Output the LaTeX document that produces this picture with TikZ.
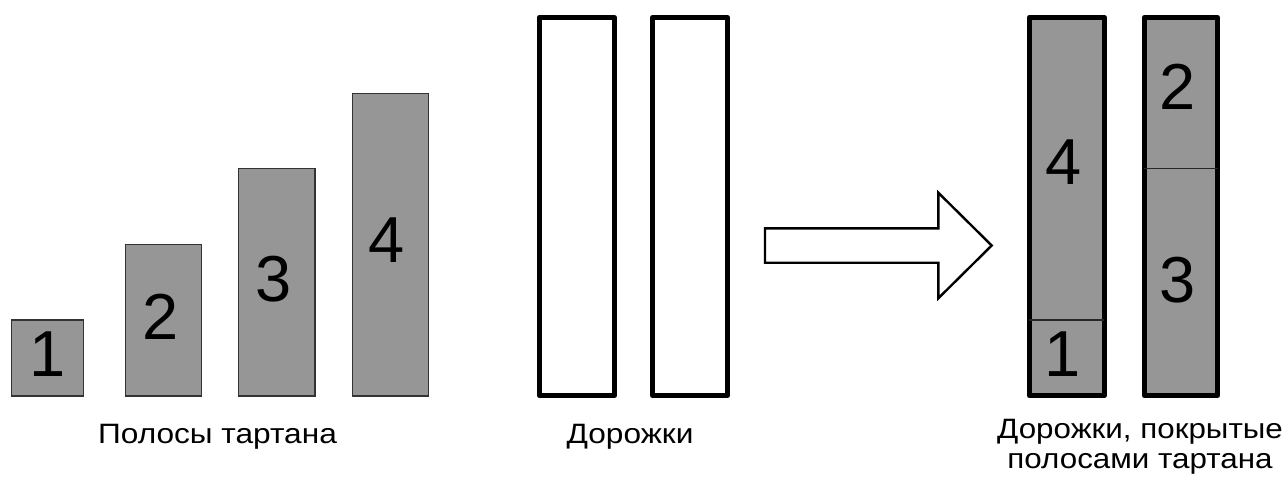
\documentclass[tikz,border=0pt]{standalone}
\usepackage{fontspec}
\setmainfont{Liberation Sans}
\begin{document}
\begin{tikzpicture}[x=1pt,y=-1pt,
  strip/.style={fill=stripgray,draw=black!80,line width=1.3pt},
  track/.style={draw=black,line width=5pt,line join=round},
  filledtrack/.style={track,fill=stripgray},
  divider/.style={draw=black!85,line width=1.3pt},
  num/.style={inner sep=0pt,font=\fontsize{65}{70}\selectfont},
  caption/.style={inner sep=0pt,anchor=base,xscale=1.13,font=\fontsize{28}{30}\selectfont},
  bigarrow/.style={draw=black,line width=2.4pt,fill=white,line join=miter}]
\definecolor{stripgray}{RGB}{150,150,150}
\useasboundingbox (0,0) rectangle (1288,480);

% tartan strips of increasing length
\draw[strip] (11.7,396) rectangle (83.3,320);
\draw[strip] (125.3,396) rectangle (201.7,244.3);
\draw[strip] (238.3,396) rectangle (315,168.7);
\draw[strip] (352.3,396) rectangle (428.7,93.3);
\node[num] (s1) at (47.5,354) {1};
\node[num] (s2) at (161,316.5) {2};
\node[num] (s3) at (274,279.5) {3};
\node[num] (s4) at (387,240.5) {4};
\node[caption] (capstrips) at (217.5,443) {Полосы тартана};

% empty tracks
\draw[track] (539.2,17.5) rectangle (614.2,395.5);
\draw[track] (652.5,17.5) rectangle (727.5,395.5);
\node[caption] (captracks) at (630,443) {Дорожки};

% transition arrow
\draw[bigarrow] (765,228.3) -- (938.3,228.3) -- (938.3,192.7) -- (991.7,245.5)
  -- (938.3,298.3) -- (938.3,262.7) -- (765,262.7) -- cycle;

% tracks covered with strips
\draw[filledtrack] (1029.2,17.5) rectangle (1104.2,395.5);
\draw[filledtrack] (1144.2,17.5) rectangle (1217.5,395.5);
\draw[divider] (1029.2,320) -- (1104.2,320);
\draw[divider] (1144.2,168.3) -- (1217.5,168.3);
\node[num] (c4) at (1063.5,162) {4};
\node[num] (c1) at (1062.5,354) {1};
\node[num] (c2) at (1177.5,87) {2};
\node[num] (c3) at (1178,280) {3};
\node[caption,align=center,anchor=north,xscale=1.12/1.13,font=\fontsize{28}{30}\selectfont]
  (capcovered) at (1140,419) {Дорожки, покрытые\\полосами тартана};
\end{tikzpicture}
\end{document}
